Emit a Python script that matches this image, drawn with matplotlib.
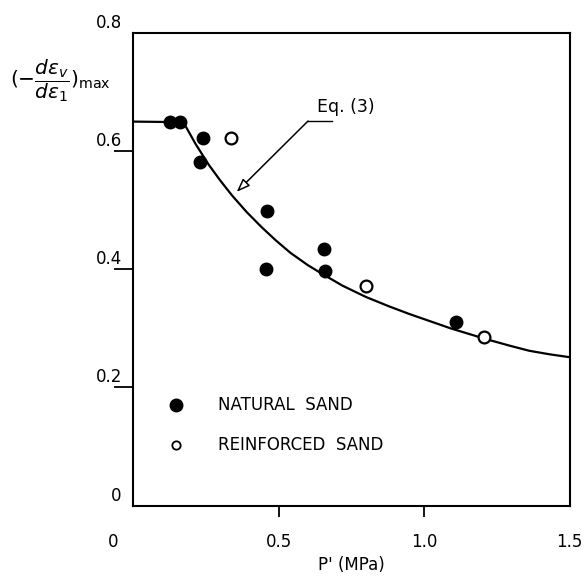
import numpy as np
import matplotlib
matplotlib.use('Agg')
import matplotlib.pyplot as plt
from matplotlib.transforms import ScaledTranslation

# natural sand (filled dots)
nat_p = [0.127, 0.161, 0.239, 0.230, 0.459, 0.455, 0.657, 0.659, 1.108]
nat_d = [0.650, 0.650, 0.623, 0.581, 0.499, 0.401, 0.435, 0.397, 0.310]

# reinforced sand (open dots)
rei_p = [0.336, 0.799, 1.206]
rei_d = [0.623, 0.371, 0.285]

# Eq. (3) curve
eq_p = [0.0, 0.173, 0.215, 0.26, 0.30, 0.34, 0.39, 0.44, 0.49, 0.54, 0.60,
        0.65, 0.72, 0.80, 0.88, 0.95, 1.02, 1.09, 1.15, 1.21, 1.29, 1.36, 1.43, 1.5]
eq_d = [0.650, 0.649, 0.612, 0.577, 0.550, 0.525, 0.497, 0.472, 0.449, 0.428, 0.407,
        0.392, 0.372, 0.353, 0.337, 0.324, 0.312, 0.300, 0.291, 0.282, 0.271, 0.262, 0.256, 0.251]

xticks = [0, 0.5, 1.0, 1.5]
xlabels = ['0', '0.5', '1.0', '1.5']
yticks = [0, 0.2, 0.4, 0.6, 0.8]
ylabels = ['0', '0.2', '0.4', '0.6', '0.8']

fig = plt.figure(figsize=(5.84, 5.84), dpi=100)
ax = fig.add_axes([0.2277, 0.1344, 0.7483, 0.8091])

ax.plot(eq_p, eq_d, color='black', lw=1.6, zorder=2)
ax.plot(nat_p, nat_d, 'o', color='black', ms=9, zorder=3)
ax.plot(rei_p, rei_d, 'o', mfc='white', mec='black', mew=1.6, ms=8.5, zorder=3)

# Eq. (3) label with leader
ax.text(0.731, 0.675, 'Eq. (3)', fontsize=12.5, ha='center', va='center')
ax.plot([0.601, 0.683], [0.651, 0.651], color='black', lw=1.0)
ax.annotate('', xy=(0.356, 0.531), xytext=(0.601, 0.651),
            arrowprops=dict(arrowstyle='-|>,head_length=0.8,head_width=0.3',
                            fc='white', ec='black', lw=1.1, shrinkA=0, shrinkB=0))

# legend drawn by hand
ax.plot([0.149], [0.171], 'o', color='black', ms=9)
ax.plot([0.149], [0.103], 'o', mfc='white', mec='black', mew=1.3, ms=6)
ax.text(0.292, 0.171, 'NATURAL  SAND', fontsize=12, va='center', ha='left')
ax.text(0.292, 0.103, 'REINFORCED  SAND', fontsize=12, va='center', ha='left')

ax.set_xlim(0, 1.5)
ax.set_ylim(0, 0.8)
ax.set_xticks(xticks)
ax.set_xticklabels(xlabels, fontsize=12)
ax.set_yticks(yticks)
ax.set_yticklabels(ylabels, fontsize=12)
for s in ax.spines.values():
    s.set_linewidth(1.5)
ax.tick_params(axis='x', length=8, width=1.3, pad=12)
ax.tick_params(axis='y', length=14, width=1.3, pad=-6)

xt = ax.xaxis.get_major_ticks()
xt[0].tick1line.set_visible(False)
xt[-1].tick1line.set_visible(False)
yt = ax.yaxis.get_major_ticks()
yt[0].tick1line.set_visible(False)
yt[-1].tick1line.set_visible(False)

for lab in ax.get_yticklabels():
    lab.set_transform(lab.get_transform() + ScaledTranslation(0, 0.12, fig.dpi_scale_trans))
xl = ax.get_xticklabels()
xl[0].set_transform(xl[0].get_transform() + ScaledTranslation(-0.2, 0, fig.dpi_scale_trans))
xl[-1].set_transform(xl[-1].get_transform() + ScaledTranslation(-0.01, 0, fig.dpi_scale_trans))

fig.text(0.103, 0.862, r'$(-\dfrac{d\varepsilon_v}{d\varepsilon_1})_{\max}$',
         fontsize=14.5, ha='center', va='center')
fig.text(0.601, 0.033, "P' (MPa)", fontsize=12, ha='center', va='center')

fig.savefig('out.png', dpi=100)
